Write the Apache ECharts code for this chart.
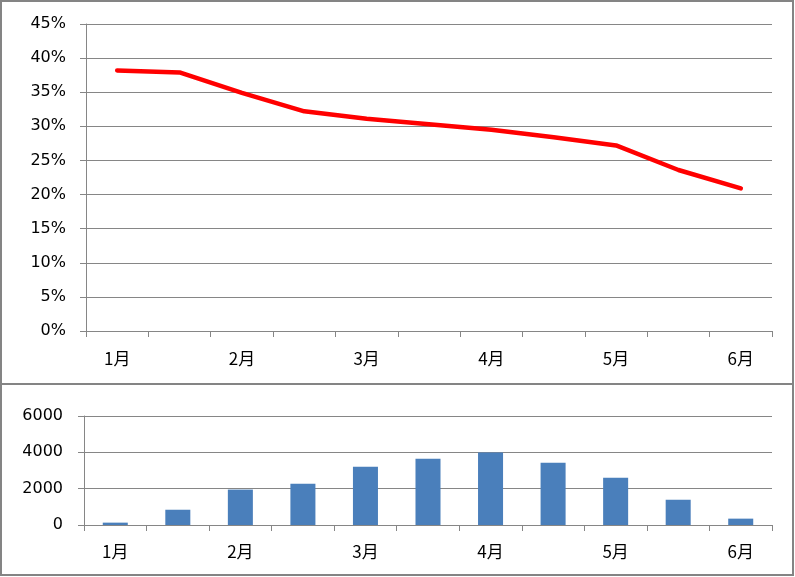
<!DOCTYPE html>
<html>
<head>
<meta charset="utf-8">
<script src="https://cdn.jsdelivr.net/npm/echarts@6/dist/echarts.min.js"></script>
<style>
html,body{margin:0;padding:0;background:#fff;}
#c{width:795px;height:577px;}
</style>
</head>
<body>
<div id="c"></div>
<script>
var categories = ['1月','1月後半','2月','2月後半','3月','3月後半','4月','4月後半','5月','5月後半','6月'];
var shownLabels = ['1月','2月','3月','4月','5月','6月'];
var rateValues = [38.2, 37.9, 34.9, 32.2, 31.1, 30.3, 29.5, 28.4, 27.2, 23.6, 20.9];
var countValues = [130, 840, 1950, 2270, 3200, 3640, 3990, 3420, 2600, 1390, 350];
var rateTicks = ['0%','5%','10%','15%','20%','25%','30%','35%','40%','45%'];
var countTicks = ['0','2000','4000','6000'];

var gridColor = '#868686';
var chart = echarts.init(document.getElementById('c'), null, {renderer:'canvas'});

function xAxisFor(gridIndex, margin){
  return {
    type:'category', gridIndex:gridIndex, data:categories, boundaryGap:true,
    axisLine:{show:true, lineStyle:{color:gridColor, width:1}},
    axisTick:{show:true, interval:0, length:6, lineStyle:{color:gridColor}},
    axisLabel:{
      interval:0, margin:margin, color:'#000', fontSize:17,
      fontFamily:'Noto Sans CJK JP',
      formatter:function(v){ return shownLabels.indexOf(v) >= 0 ? v : ''; }
    },
    splitLine:{show:false}
  };
}

chart.setOption({
  animation:false,
  backgroundColor:'#fff',
  grid:[
    {left:86, right:23, top:24, bottom:246},
    {left:84, right:23, top:416, bottom:52}
  ],
  xAxis:[xAxisFor(0, 19), xAxisFor(1, 18)],
  yAxis:[
    {
      type:'value', gridIndex:0, min:0, max:45, interval:5,
      axisLine:{show:true, lineStyle:{color:gridColor}},
      axisTick:{show:true, length:6, lineStyle:{color:gridColor}},
      axisLabel:{color:'#000', fontSize:16, fontFamily:'DejaVu Sans', margin:20,
        formatter:function(v){ return rateTicks[Math.round(v/5)]; }},
      splitLine:{show:true, lineStyle:{color:gridColor, width:1}}
    },
    {
      type:'value', gridIndex:1, min:0, max:6000, interval:2000,
      axisLine:{show:true, lineStyle:{color:gridColor}},
      axisTick:{show:true, length:6, lineStyle:{color:gridColor}},
      axisLabel:{color:'#000', fontSize:16, fontFamily:'DejaVu Sans', margin:21,
        formatter:function(v){ return countTicks[Math.round(v/2000)]; }},
      splitLine:{show:true, lineStyle:{color:gridColor, width:1}}
    }
  ],
  series:[
    {
      type:'line', xAxisIndex:0, yAxisIndex:0, data:rateValues,
      showSymbol:false, symbol:'none', smooth:false,
      lineStyle:{color:'#FF0000', width:4.5, cap:'round', join:'round'},
      itemStyle:{color:'#FF0000'}
    },
    {
      type:'bar', xAxisIndex:1, yAxisIndex:1, data:countValues,
      barWidth:'40%', itemStyle:{color:'#4A7FBB'}
    }
  ],
  graphic:[
    {type:'rect', shape:{x:1, y:1, width:792, height:383}, style:{fill:null, stroke:'#848484', lineWidth:2}, silent:true, z:100},
    {type:'rect', shape:{x:1, y:384, width:792, height:191}, style:{fill:null, stroke:'#848484', lineWidth:2}, silent:true, z:100}
  ]
});
</script>
</body>
</html>
